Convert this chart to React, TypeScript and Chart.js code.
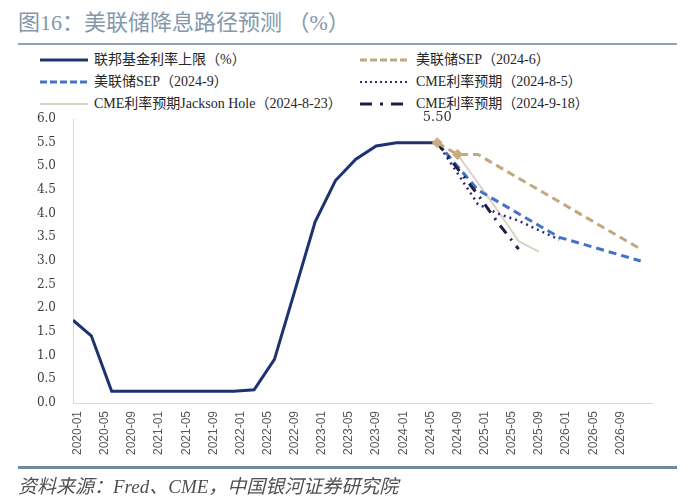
import React, { useEffect, useRef } from 'react';
import { Chart, registerables } from 'chart.js';

Chart.register(...registerables);

// ---------- data ----------
// x-axis tick labels (every 4 months)
const tickLabels = [
  '2020-01', '2020-05', '2020-09', '2021-01', '2021-05', '2021-09', '2022-01',
  '2022-05', '2022-09', '2023-01', '2023-05', '2023-09', '2024-01', '2024-05',
  '2024-09', '2025-01', '2025-05', '2025-09', '2026-01', '2026-05', '2026-09',
];
const axisStart = '2019-12-10';
const axisEnd = '2027-01-21';

// 联邦基金利率上限（%）— quarterly averages
const fedDates = [
  '2019-12-10', '2020-03', '2020-06', '2020-09', '2020-12', '2021-03', '2021-06',
  '2021-09', '2021-12', '2022-03', '2022-06', '2022-09', '2022-12', '2023-03',
  '2023-06', '2023-09', '2023-12', '2024-03', '2024-06',
];
const fedValues = [
  1.75, 1.42, 0.25, 0.25, 0.25, 0.25, 0.25,
  0.25, 0.25, 0.28, 0.92, 2.37, 3.83, 4.70,
  5.15, 5.43, 5.50, 5.50, 5.50,
];

// 美联储SEP（2024-6）
const sepJunDates = ['2024-06', '2024-09', '2024-12', '2025-12', '2026-12'];
const sepJunValues = [5.5, 5.25, 5.25, 4.25, 3.25];

// 美联储SEP（2024-9）
const sepSepDates = ['2024-06', '2024-12', '2025-12', '2026-12'];
const sepSepValues = [5.5, 4.5, 3.5, 3.0];

// CME利率预期（2024-8-5）
const cmeAugDates = ['2024-06', '2024-09', '2024-12', '2025-03', '2025-06', '2025-09', '2025-12'];
const cmeAugValues = [5.5, 4.85, 4.2, 4.0, 3.85, 3.65, 3.45];

// CME利率预期Jackson Hole（2024-8-23）
const cmeJhDates = ['2024-09', '2024-12', '2025-03', '2025-06', '2025-09'];
const cmeJhValues = [5.25, 4.65, 4.05, 3.42, 3.2];

// CME利率预期（2024-9-18）
const cmeSepDates = ['2024-06', '2024-09', '2024-12', '2025-03', '2025-06'];
const cmeSepValues = [5.5, 4.95, 4.4, 3.8, 3.25];

// y-axis range
const yMin = 0;
const yMax = 6;
const yStep = 0.5;

// ---------- helpers ----------
function monthIndex(s: string): number {
  const parts = s.split('-').map(Number);
  const y = parts[0];
  const m = parts[1];
  const d = parts.length > 2 ? parts[2] : 1;
  return (y - 2020) * 12 + (m - 1) + (d - 1) / 30;
}

function toPoints(dates: string[], values: number[]) {
  return dates.map((d, i) => ({ x: monthIndex(d), y: values[i] }));
}

const COLORS = {
  fed: '#1f3270',
  sepJun: '#c2a87c',
  sepSep: '#4472c4',
  cmeAug: '#2e2a78',
  cmeJh: '#dcd3c6',
  cmeSep: '#1a2142',
};

const serif = '"Liberation Serif", "Noto Sans CJK SC", serif';

const legendItems = [
  { label: '联邦基金利率上限（%）', color: COLORS.fed, dash: '', width: 3, x: 40, tx: 94, y: 60 },
  { label: '美联储SEP（2024-6）', color: COLORS.sepJun, dash: '7 3', width: 3, x: 360, tx: 416, y: 60 },
  { label: '美联储SEP（2024-9）', color: COLORS.sepSep, dash: '7 3', width: 3, x: 40, tx: 94, y: 82 },
  { label: 'CME利率预期（2024-8-5）', color: COLORS.cmeAug, dash: '2 3', width: 2, x: 360, tx: 416, y: 82 },
  { label: 'CME利率预期Jackson Hole（2024-8-23）', color: COLORS.cmeJh, dash: '', width: 2, x: 40, tx: 94, y: 104 },
  { label: 'CME利率预期（2024-9-18）', color: COLORS.cmeSep, dash: '12 8 3 8', width: 3, x: 360, tx: 416, y: 104 },
];

const valueLabelPlugin = {
  id: 'valueLabel',
  afterDatasetsDraw(chart: any) {
    const meta = chart.getDatasetMeta(1);
    const pts = meta.data;
    const pt = pts[pts.length - 1];
    if (!pt) return;
    const ctx = chart.ctx;
    ctx.save();
    ctx.font = '13px "DejaVu Serif", serif';
    ctx.fillStyle = '#333333';
    ctx.textAlign = 'center';
    ctx.textBaseline = 'middle';
    ctx.fillText(fedValues[fedValues.length - 1].toFixed(2), pt.x, pt.y - 25);
    ctx.restore();
  },
};

function ChartCanvas() {
  const ref = useRef<HTMLCanvasElement | null>(null);
  useEffect(() => {
    if (!ref.current) return;
    const chart = new Chart(ref.current, {
      type: 'line',
      data: {
        datasets: [
          {
            label: '美联储SEP（2024-6）',
            data: toPoints(sepJunDates, sepJunValues),
            borderColor: COLORS.sepJun,
            borderWidth: 3,
            borderDash: [8, 5],
            pointStyle: 'rectRot',
            pointRadius: sepJunValues.map((_, i) => (i < 2 ? 5.5 : 0)),
            pointBackgroundColor: '#c9ad82',
            pointBorderWidth: 0,
            fill: false,
          },
          {
            label: '联邦基金利率上限（%）',
            data: toPoints(fedDates, fedValues),
            borderColor: COLORS.fed,
            borderWidth: 3,
            pointRadius: 0,
            fill: false,
          },
          {
            label: 'CME利率预期（2024-9-18）',
            data: toPoints(cmeSepDates, cmeSepValues),
            borderColor: COLORS.cmeSep,
            borderWidth: 3,
            borderDash: [10, 7, 2, 7],
            pointRadius: 0,
            fill: false,
          },
          {
            label: 'CME利率预期（2024-8-5）',
            data: toPoints(cmeAugDates, cmeAugValues),
            borderColor: COLORS.cmeAug,
            borderWidth: 2.5,
            borderDash: [2, 4],
            pointRadius: 0,
            fill: false,
          },
          {
            label: '美联储SEP（2024-9）',
            data: toPoints(sepSepDates, sepSepValues),
            borderColor: COLORS.sepSep,
            borderWidth: 3,
            borderDash: [8, 5],
            pointRadius: 0,
            fill: false,
          },
          {
            label: 'CME利率预期Jackson Hole（2024-8-23）',
            data: toPoints(cmeJhDates, cmeJhValues),
            borderColor: COLORS.cmeJh,
            borderWidth: 2,
            pointRadius: 0,
            fill: false,
          },
        ],
      },
      options: {
        responsive: false,
        animation: false,
        layout: { padding: { left: 0, right: 48, top: 119, bottom: 40 } },
        plugins: {
          legend: { display: false },
          tooltip: { enabled: false },
          title: { display: false },
        },
        elements: { line: { tension: 0 } },
        scales: {
          x: {
            type: 'linear',
            min: monthIndex(axisStart),
            max: monthIndex(axisEnd),
            grid: { display: false, drawTicks: false },
            border: { display: true, color: '#d9d9d9', width: 1 },
            afterBuildTicks: (s: any) => {
              s.ticks = tickLabels.map((l) => ({ value: monthIndex(l) }));
            },
            afterFit: (s: any) => {
              s.height = 60;
            },
            ticks: {
              autoSkip: false,
              minRotation: 90,
              maxRotation: 90,
              padding: 8,
              color: '#595959',
              font: { family: '"Liberation Sans", Arial, sans-serif', size: 12 },
              callback: (_v: any, i: number) => tickLabels[i],
            },
          },
          y: {
            min: yMin,
            max: yMax,
            grid: { display: false, drawTicks: false },
            border: { display: true, color: '#d9d9d9', width: 1 },
            afterFit: (s: any) => {
              s.width = 73;
            },
            ticks: {
              stepSize: yStep,
              padding: 17,
              color: '#404040',
              font: { family: '"DejaVu Serif", serif', size: 12 },
              callback: (v: any) => Number(v).toFixed(1),
            },
          },
        },
      },
      plugins: [valueLabelPlugin],
    } as any);
    return () => chart.destroy();
  }, []);
  return (
    <canvas
      ref={ref}
      width={700}
      height={503}
      style={{ position: 'absolute', left: 0, top: 0, width: 700, height: 503 }}
    />
  );
}

export default function App() {
  return (
    <div
      style={{
        position: 'absolute',
        left: 0,
        top: 0,
        width: 700,
        height: 503,
        background: '#ffffff',
        overflow: 'hidden',
      }}
    >
      <div
        style={{
          position: 'absolute',
          left: 18,
          top: 8,
          fontFamily: serif,
          fontSize: 22,
          lineHeight: '30px',
          color: '#8497ad',
          whiteSpace: 'nowrap',
        }}
      >
        图16：美联储降息路径预测 （%）
      </div>
      <div style={{ position: 'absolute', left: 18, top: 43, width: 659, height: 2, background: '#91a3b7' }} />
      {legendItems.map((it) => (
        <React.Fragment key={it.label}>
          <svg
            width={50}
            height={10}
            style={{ position: 'absolute', left: it.x, top: it.y - 5 }}
          >
            <line
              x1={0}
              y1={5}
              x2={48}
              y2={5}
              stroke={it.color}
              strokeWidth={it.width}
              strokeDasharray={it.dash || undefined}
            />
          </svg>
          <div
            style={{
              position: 'absolute',
              left: it.tx,
              top: it.y - 10,
              height: 20,
              lineHeight: '20px',
              fontFamily: serif,
              fontSize: 14,
              color: '#262626',
              whiteSpace: 'nowrap',
            }}
          >
            {it.label}
          </div>
        </React.Fragment>
      ))}
      <ChartCanvas />
      <div style={{ position: 'absolute', left: 18, top: 466, width: 659, height: 3, background: '#6f89a3' }} />
      <div
        style={{
          position: 'absolute',
          left: 18,
          top: 474,
          fontFamily: serif,
          fontSize: 19,
          lineHeight: '26px',
          fontStyle: 'italic',
          color: '#505050',
          whiteSpace: 'nowrap',
        }}
      >
        资料来源：Fred、CME，中国银河证券研究院
      </div>
    </div>
  );
}
